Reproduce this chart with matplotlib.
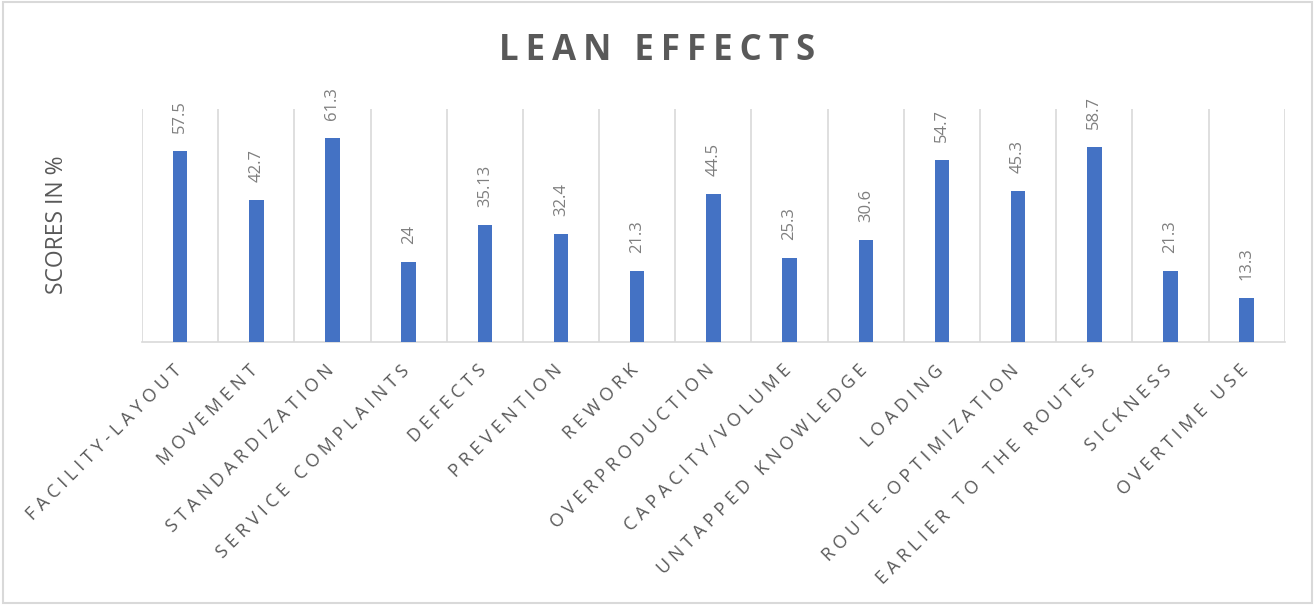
import matplotlib.pyplot as plt
import matplotlib.transforms as mtransforms
import numpy as np
from matplotlib.patches import Rectangle

# Lean effect scores per category
categories = ['FACILITY-LAYOUT', 'MOVEMENT', 'STANDARDIZATION', 'SERVICE COMPLAINTS',
              'DEFECTS', 'PREVENTION', 'REWORK', 'OVERPRODUCTION', 'CAPACITY/VOLUME',
              'UNTAPPED KNOWLEDGE', 'LOADING', 'ROUTE-OPTIMIZATION',
              'EARLIER TO THE ROUTES', 'SICKNESS', 'OVERTIME USE']
scores = [57.5, 42.7, 61.3, 24, 35.13, 32.4, 21.3, 44.5, 25.3, 30.6, 54.7, 45.3, 58.7, 21.3, 13.3]
score_labels = ['57.5', '42.7', '61.3', '24', '35.13', '32.4', '21.3', '44.5', '25.3',
                '30.6', '54.7', '45.3', '58.7', '21.3', '13.3']

bar_color = '#4472C4'
grid_color = '#D9D9D9'
text_dark = '#595959'
text_light = '#7F7F7F'

plt.rcParams['font.family'] = ['Open Sans', 'DejaVu Sans']


def spaced(s, sep='\u200a'):
    # widen tracking by putting a small space between letters
    return sep.join(s)


fig = plt.figure(figsize=(13.15, 6.05), dpi=100)
ax = fig.add_axes([0.108, 0.4347, 0.869, 0.3851])

x = np.arange(len(categories))
ax.bar(x, scores, width=0.19, color=bar_color, zorder=3)

ax.set_xlim(-0.5, len(categories) - 0.5)
ax.set_ylim(0, 70)

# vertical separators between categories
ax.set_xticks(np.arange(-0.5, len(categories)), minor=True)
ax.grid(which='minor', axis='x', color=grid_color, linewidth=1.2)
ax.tick_params(which='both', length=0)
ax.set_yticks([])

for side in ['top', 'right', 'left']:
    ax.spines[side].set_visible(False)
ax.spines['bottom'].set_color(grid_color)
ax.spines['bottom'].set_linewidth(1.2)

ax.set_xticks(x)
ax.set_xticklabels([spaced(c, '\u2009\u200a') for c in categories], rotation=45, ha='right',
                   va='top', rotation_mode='anchor', fontsize=13, color=text_dark)
ax.tick_params(axis='x', which='major', pad=14)
shift = mtransforms.ScaledTranslation(-8 / 100, 0, fig.dpi_scale_trans)
for lab in ax.get_xticklabels():
    lab.set_transform(lab.get_transform() + shift)

for xi, v, lab in zip(x, scores, score_labels):
    ax.annotate(lab, (xi, v), xytext=(0, 13), textcoords='offset points',
                rotation=90, ha='center', va='bottom', fontsize=12, color=text_light)

fig.text(0.5, 0.916, spaced('LEAN EFFECTS', '\u2009'), ha='center', va='center',
         fontsize=25, fontweight='bold', color=text_dark)
fig.text(0.043, 0.628, 'SCORES IN %', rotation=90, ha='center', va='center',
         fontsize=16.5, color=text_dark)

# light frame around the whole chart
fig.patches.append(Rectangle((0.002, 0.003), 0.996, 0.994, transform=fig.transFigure,
                             fill=False, edgecolor=grid_color, linewidth=1.5))

fig.savefig('out.png', dpi=100)
